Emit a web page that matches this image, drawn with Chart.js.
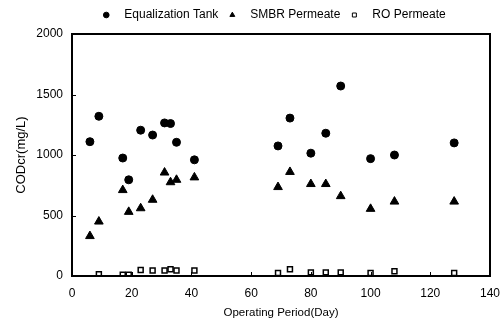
<!DOCTYPE html>
<html>
<head>
<meta charset="utf-8">
<script src="https://cdn.jsdelivr.net/npm/chart.js@4/dist/chart.umd.min.js"></script>
<style>
html,body{margin:0;padding:0;background:#fff;}
#wrap{width:504px;height:320px;position:relative;}
</style>
</head>
<body>
<div id="wrap"><canvas id="c" width="504" height="320"></canvas></div>
<script>
const days = [6, 9, 17, 19, 23, 27, 31, 33, 35, 41, 69, 73, 80, 85, 90, 100, 108, 128];
const equalizationTank = [1110, 1320, 975, 795, 1205, 1165, 1265, 1260, 1105, 960, 1075, 1305, 1015, 1180, 1570, 970, 1000, 1100];
const smbrPermeate = [330, 450, 710, 530, 560, 630, 855, 775, 795, 815, 735, 860, 760, 760, 660, 555, 615, 615];
const roPermeate = [null, 15, 10, 10, 50, 45, 45, 55, 45, 45, 25, 55, 30, 30, 30, 25, 40, 25];
const seriesNames = ['Equalization Tank', 'SMBR Permeate', 'RO Permeate'];
const xTicks = [0, 20, 40, 60, 80, 100, 120, 140];
const yTicks = [0, 500, 1000, 1500, 2000];

function pts(vals){ return days.map((d,i)=>({x:d,y:vals[i]})).filter(p=>p.y!==null); }

const framePlugin = {
  id:'frame',
  afterLayout(chart){
    const lg = chart.legend;
    if (lg) { lg.left += 30; lg.right += 30; lg.top -= 3; lg.bottom -= 3; }
  },
  afterDraw(chart){
    const {ctx, chartArea:a, scales} = chart;
    ctx.save();
    ctx.strokeStyle='#000';
    ctx.lineWidth=2;
    ctx.strokeRect(a.left, a.top, a.right-a.left, a.bottom-a.top);
    ctx.lineWidth=1;
    ctx.beginPath();
    yTicks.forEach(v=>{const y=Math.round(scales.y.getPixelForValue(v))+0.5; ctx.moveTo(a.left, y); ctx.lineTo(a.left+4, y);});
    xTicks.forEach(v=>{const x=Math.round(scales.x.getPixelForValue(v))+0.5; ctx.moveTo(x, a.bottom); ctx.lineTo(x, a.bottom-4);});
    ctx.stroke();
    ctx.restore();
  }
};

const FAM = '"Liberation Sans", Arial, sans-serif';
const font = {family:FAM, size:12};
Chart.defaults.color = '#000';
Chart.defaults.font = font;

new Chart(document.getElementById('c'), {
  type:'scatter',
  data:{
    datasets:[
      {label:seriesNames[0], data:pts(equalizationTank), pointStyle:'circle', pointRadius:4, backgroundColor:'#000', borderColor:'#000', borderWidth:1},
      {label:seriesNames[1], data:pts(smbrPermeate), pointStyle:'triangle', pointRadius:5, backgroundColor:'#000', borderColor:'#000', borderWidth:1},
      {label:seriesNames[2], data:pts(roPermeate), pointStyle:'rect', pointRadius:3.5, backgroundColor:'#fff', borderColor:'#000', borderWidth:1.5}
    ]
  },
  options:{
    responsive:false,
    animation:false,
    layout:{padding:{left:0,right:14,top:0,bottom:0}},
    plugins:{
      legend:{
        display:true,
        labels:{
          usePointStyle:true, boxWidth:4, boxHeight:4, padding:12, font:{family:FAM,size:12}, color:'#000',
          generateLabels(chart){
            const items = Chart.defaults.plugins.legend.labels.generateLabels(chart);
            items.forEach(it=>{ it.text = '   ' + it.text; it.lineWidth = 1; });
            return items;
          }
        }
      },
      tooltip:{enabled:false}
    },
    scales:{
      x:{
        type:'linear', min:0, max:140,
        afterBuildTicks(s){ s.ticks = xTicks.map(v=>({value:v})); },
        grid:{display:false, drawTicks:false},
        border:{display:false},
        ticks:{padding:10, font:{family:FAM,size:12}, color:'#000', maxRotation:0, callback:v=>String(v)},
        title:{display:true, text:'Operating Period(Day)', font:{family:FAM,size:11.5}, color:'#000', padding:{top:0,bottom:0}},
        afterFit(s){ s.height = 44; s.paddingLeft = 0; s.paddingRight = 0; }
      },
      y:{
        type:'linear', min:0, max:2000,
        afterBuildTicks(s){ s.ticks = yTicks.map(v=>({value:v})); },
        grid:{display:false, drawTicks:false},
        border:{display:false},
        ticks:{padding:9, font:{family:FAM,size:12}, color:'#000', callback:v=>String(v)},
        title:{display:true, text:'CODcr(mg/L)', font:{family:FAM,size:13}, color:'#000', padding:{top:14,bottom:4}},
        afterFit(s){ s.width = 72; s.paddingTop = 0; s.paddingBottom = 0; }
      }
    }
  },
  plugins:[framePlugin]
});
</script>
</body>
</html>
